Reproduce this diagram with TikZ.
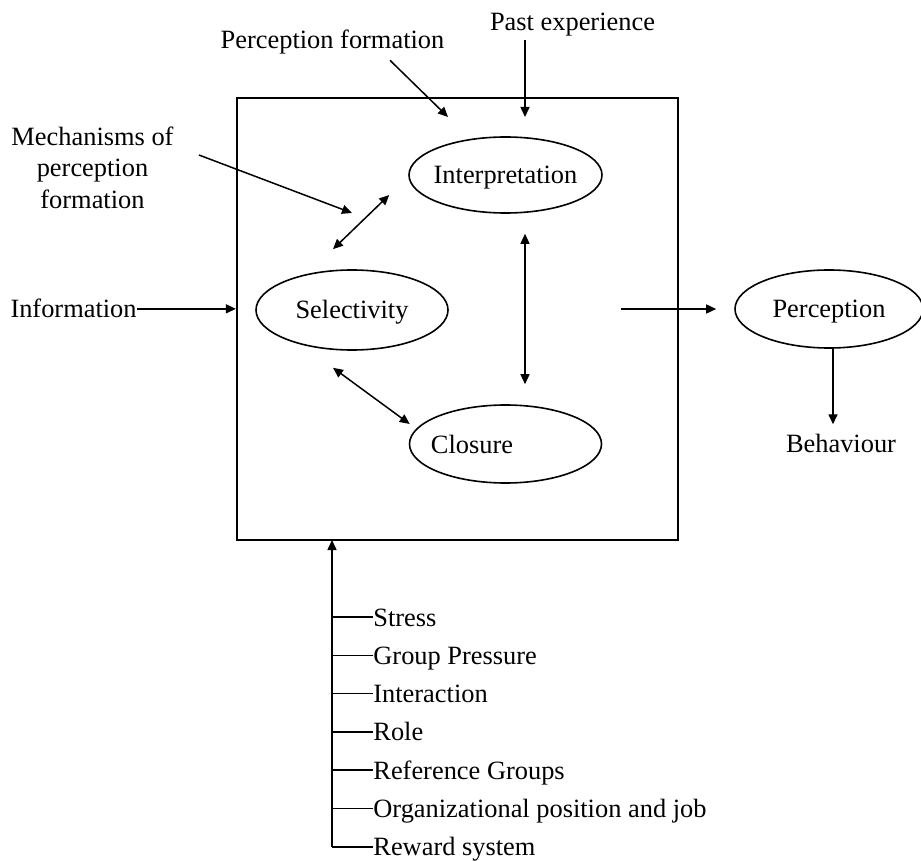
\documentclass[tikz,border=0pt]{standalone}
\usepackage{fontspec}
\setmainfont{Liberation Serif}
\usetikzlibrary{shapes.geometric}
\usetikzlibrary{arrows.meta}
\usetikzlibrary{calc}

\begin{document}
\begin{tikzpicture}[x=0.5pt, y=-0.5pt,
   font=\fontsize{13.2}{15.75}\selectfont,
   every node/.style={inner sep=0pt},
   oval/.style={draw, ellipse, line width=0.8pt,
      minimum width=96.5pt, minimum height=39pt,
      text height=9pt, text depth=0pt,
      inner xsep=-3pt, inner ysep=0pt},
   arr/.style={-{Triangle[length=5pt,width=4.5pt]}, line width=0.75pt},
   darr/.style={{Triangle[length=5pt,width=4.5pt]}-{Triangle[length=5pt,width=4.5pt]},
      line width=0.75pt},
   factor/.style={anchor=west, text height=11pt, text depth=2pt}]
\useasboundingbox (0,0) rectangle (921,861);
\node[draw, 
   line width=1.15pt, 
   minimum width=220.5pt, 
   minimum height=221pt] (box) at (457.5,319) {};
\node[oval, minimum height=38pt] (int) at (505.5,175) {Interpretation};
\node[oval, minimum width=96pt, minimum height=40pt] (sel) at (352,310) {Selectivity};
\node[oval, minimum width=96pt, 
   label={[xshift=-16.75pt, text height=9pt, text depth=0pt]center:Closure}] (clo) at (505.5,444) {};
\node[oval, minimum width=94pt] (per) at (829,309) {Perception};
\node[anchor=base] (pf) at (332.5,49) {Perception formation};
\node[anchor=base] (pe) at (572.5,31) {Past experience};
\node[align=center] (mech) at (92.5,167.5) {Mechanisms of\\perception\\formation};
\node[anchor=base east] (info) at (137,318) {Information};
\node[anchor=base] (beh) at (841,452) {Behaviour};
\coordinate (pfend) at (448,117);
\coordinate (peend) at (525,117);
\coordinate (mechend) at (352,213);
\coordinate (spinetop) at (332,540);
\draw[arr] ([xshift=28.75pt,yshift=-2.65pt]pf.south) -- (pfend);
\draw[arr] ([xshift=-23.75pt,yshift=-1.65pt]pe.south) -- (peend);
\draw[arr] ([xshift=12.5pt,yshift=6.25pt]mech.east) -- (mechend);
\draw[arr] (info.east) -- (info.east -| box.west);
\draw[darr] ([shift={(-19,-20)}]sel.north) -- ([shift={(-19,20)}]int.west);
\draw[darr] ([shift={(19.5,20)}]int.south) -- ([shift={(19.5,-20)}]clo.north);
\draw[darr] ([shift={(-19,17)}]sel.south) -- ([shift={(1,-20)}]clo.west);
\draw[arr] ($(per.west -| box.east)+(-58,0)$) -- ([xshift=-9pt]per.west);
\draw[arr] ([xshift=2pt]per.south) -- ($(per.south |- beh.north)+(4,-9)$);
\foreach \txt [count=\i] in {Stress, Group Pressure, Interaction, Role,
   Reference Groups, Organizational position and job, Reward system}
   \node[factor] (f\i) at (373,{578.7+38.3*\i}) {\txt};
\foreach \i in {1,...,7}
   \draw[line width=0.75pt] (f\i.west) -- (f\i.west -| spinetop);
\draw[arr] (f7.west -| spinetop) -- (spinetop);
\end{tikzpicture}
\end{document}
